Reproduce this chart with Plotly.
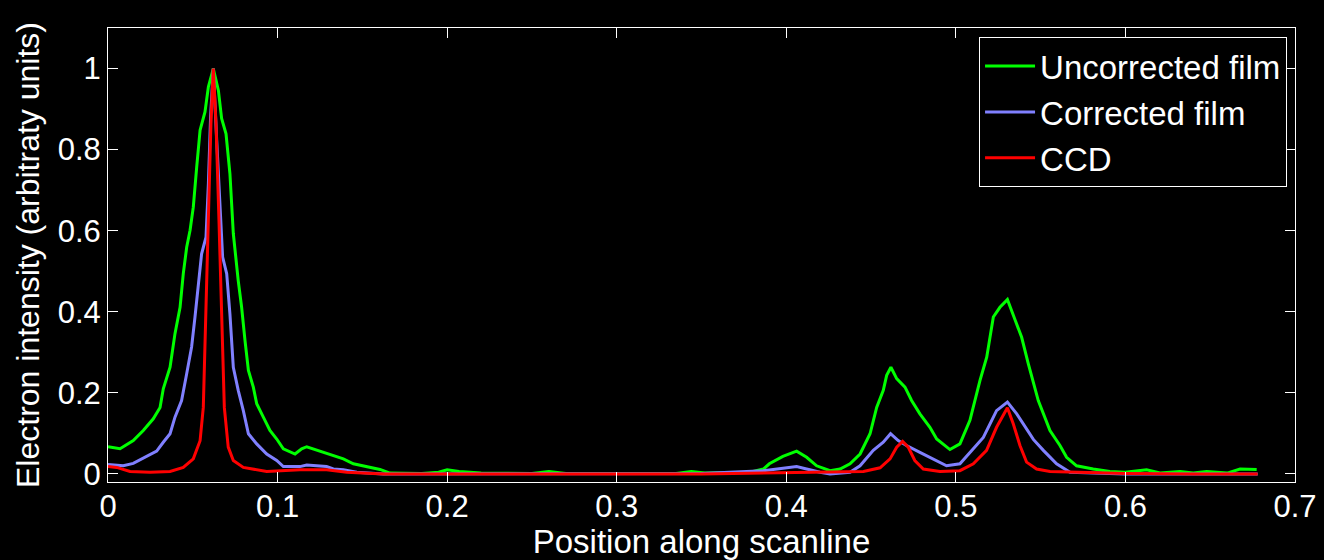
import plotly.graph_objects as go

# ---- data ----
x_uncorr = [0.0, 0.0071, 0.0149, 0.0208, 0.0267, 0.0307, 0.0326, 0.0366, 0.0395, 0.0425, 0.0444,
            0.0464, 0.0484, 0.0503, 0.0523, 0.0543, 0.0572, 0.0592, 0.0621, 0.0651, 0.0670, 0.0696,
            0.0719, 0.0739, 0.0768, 0.0788, 0.0808, 0.0828, 0.0857, 0.0877, 0.0916, 0.0955, 0.0995,
            0.1034, 0.1103, 0.1142, 0.1172, 0.1231, 0.1309, 0.1388, 0.1447, 0.1526, 0.1604, 0.1663,
            0.185, 0.195, 0.200, 0.207, 0.220, 0.250, 0.260, 0.270, 0.300, 0.335, 0.344, 0.352,
            0.3786, 0.3865, 0.390, 0.398, 0.4061, 0.412, 0.4179, 0.4258, 0.4317, 0.4376, 0.4435,
            0.4494, 0.4533, 0.4572, 0.4592, 0.4617, 0.4651, 0.4700, 0.4739, 0.4788, 0.4847, 0.4887,
            0.4965, 0.5024, 0.5083, 0.5142, 0.5182, 0.5221, 0.5260, 0.5304, 0.5350, 0.5388, 0.5427,
            0.5486, 0.5555, 0.5614, 0.5653, 0.5712, 0.5810, 0.5908, 0.5998, 0.6125, 0.6204, 0.6322,
            0.6400, 0.6479, 0.6600, 0.6676, 0.6774]
y_uncorr = [0.067, 0.062, 0.082, 0.107, 0.136, 0.164, 0.210, 0.263, 0.346, 0.411, 0.494,
            0.559, 0.601, 0.658, 0.757, 0.848, 0.893, 0.955, 1.000, 0.946, 0.877, 0.839,
            0.741, 0.593, 0.477, 0.411, 0.329, 0.255, 0.214, 0.173, 0.140, 0.107, 0.086,
            0.062, 0.049, 0.062, 0.067, 0.059, 0.047, 0.037, 0.025, 0.018, 0.011, 0.002,
            0.001, 0.004, 0.010, 0.006, 0.002, 0.001, 0.006, 0.001, 0.001, 0.001, 0.006, 0.002,
            0.004, 0.012, 0.025, 0.043, 0.056, 0.041, 0.020, 0.008, 0.012, 0.025, 0.049,
            0.099, 0.164, 0.206, 0.243, 0.263, 0.235, 0.214, 0.181, 0.148, 0.115, 0.086,
            0.060, 0.074, 0.132, 0.230, 0.288, 0.387, 0.411, 0.430, 0.379, 0.337, 0.272,
            0.181, 0.107, 0.070, 0.041, 0.020, 0.012, 0.006, 0.004, 0.010, 0.002, 0.006,
            0.002, 0.006, 0.002, 0.012, 0.011]

x_corr = [0.0, 0.0090, 0.0149, 0.0208, 0.0248, 0.0287, 0.0326, 0.0366, 0.0395, 0.0434, 0.0464,
          0.0493, 0.0513, 0.0533, 0.0552, 0.0578, 0.0592, 0.0605, 0.0621, 0.0641, 0.0660, 0.0676,
          0.0700, 0.0719, 0.0739, 0.0768, 0.0798, 0.0828, 0.0877, 0.0936, 0.0995, 0.1034, 0.1132,
          0.1172, 0.1289, 0.1329, 0.1388, 0.1467, 0.1624, 0.250, 0.350, 0.3865, 0.4002, 0.4061,
          0.4120, 0.4199, 0.4258, 0.4376, 0.4435, 0.4513, 0.4572, 0.4615, 0.4660, 0.4709, 0.4788,
          0.4867, 0.4945, 0.5024, 0.5083, 0.5162, 0.5240, 0.5304, 0.5359, 0.5457, 0.5516, 0.5594,
          0.5673, 0.600, 0.640, 0.678]
y_corr = [0.023, 0.020, 0.026, 0.039, 0.049, 0.056, 0.078, 0.099, 0.140, 0.181, 0.247,
          0.313, 0.387, 0.477, 0.543, 0.584, 0.716, 0.881, 1.000, 0.823, 0.658, 0.535,
          0.494, 0.395, 0.263, 0.206, 0.156, 0.099, 0.074, 0.049, 0.033, 0.018, 0.018,
          0.022, 0.018, 0.012, 0.010, 0.004, 0.000, 0.000, 0.001, 0.008, 0.016, 0.018,
          0.012, 0.004, 0.000, 0.004, 0.020, 0.058, 0.078, 0.099, 0.082, 0.070, 0.053,
          0.037, 0.020, 0.025, 0.053, 0.090, 0.156, 0.177, 0.148, 0.085, 0.058, 0.025,
          0.004, 0.000, 0.000, 0.000]

x_ccd = [0.0, 0.0051, 0.0130, 0.0248, 0.0366, 0.0444, 0.0503, 0.0543, 0.0562, 0.0578, 0.0592,
         0.0607, 0.0621, 0.0637, 0.0655, 0.0670, 0.0686, 0.0709, 0.0739, 0.0798, 0.0936, 0.1132,
         0.1289, 0.1408, 0.1624, 0.250, 0.350, 0.4455, 0.4553, 0.4612, 0.4651, 0.4686, 0.4719,
         0.4758, 0.4808, 0.4906, 0.5024, 0.5103, 0.5181, 0.5240, 0.5304, 0.5339, 0.5378, 0.5417,
         0.5476, 0.5555, 0.600, 0.640, 0.678]
y_ccd = [0.018, 0.016, 0.006, 0.004, 0.006, 0.016, 0.037, 0.082, 0.164, 0.411, 0.658,
         0.864, 1.000, 0.864, 0.617, 0.370, 0.164, 0.066, 0.033, 0.016, 0.006, 0.010,
         0.010, 0.004, 0.000, 0.000, 0.000, 0.006, 0.015, 0.037, 0.066, 0.080, 0.066,
         0.033, 0.012, 0.006, 0.008, 0.025, 0.058, 0.115, 0.163, 0.123, 0.070, 0.029,
         0.012, 0.006, 0.001, 0.000, 0.000]

x_tickvals = [0, 0.1, 0.2, 0.3, 0.4, 0.5, 0.6, 0.7]
x_ticktext = ["0", "0.1", "0.2", "0.3", "0.4", "0.5", "0.6", "0.7"]
y_tickvals = [0, 0.2, 0.4, 0.6, 0.8, 1.0]
y_ticktext = ["0", "0.2", "0.4", "0.6", "0.8", "1"]

series = [
    ("Uncorrected film", x_uncorr, y_uncorr, "#00ff00"),
    ("Corrected film", x_corr, y_corr, "#8080ff"),
    ("CCD", x_ccd, y_ccd, "#ff0000"),
]

FONT = "Liberation Sans, Arial, Helvetica, sans-serif"

fig = go.Figure()
for name, xs, ys, col in series:
    fig.add_trace(go.Scatter(x=xs, y=ys, mode="lines", name=name,
                             line=dict(color=col, width=3)))

axis_common = dict(showgrid=False, zeroline=False, showline=True, linecolor="#ffffff",
                   linewidth=1, mirror="ticks", ticks="inside", ticklen=10, tickwidth=1,
                   tickcolor="#ffffff", tickfont=dict(size=31, color="#ffffff", family=FONT))

fig.update_layout(
    width=1324, height=560,
    paper_bgcolor="#000000", plot_bgcolor="#000000",
    margin=dict(l=108, r=29, t=28, b=78, autoexpand=False),
    font=dict(family=FONT, color="#ffffff", size=31),
    xaxis=dict(range=[0, 0.7], tickvals=x_tickvals, ticktext=x_ticktext,
               ticklabelstandoff=-3,
               title=dict(text="Position along scanline", font=dict(size=33, color="#ffffff", family=FONT),
                          standoff=4),
               **axis_common),
    yaxis=dict(range=[-0.02, 1.1], tickvals=y_tickvals, ticktext=y_ticktext,
               title=dict(text="Electron intensity (arbitraty units)",
                          font=dict(size=32, color="#ffffff", family=FONT), standoff=8),
               **axis_common),
    legend=dict(x=0.9933, y=0.980, xanchor="right", yanchor="top",
                bgcolor="#000000", bordercolor="#ffffff", borderwidth=1,
                itemwidth=50,
                font=dict(size=33, color="#ffffff", family=FONT)),
    showlegend=True,
)

fig.write_html("out.html", config={"displayModeBar": False},
               post_script="document.body.style.margin='0';document.body.style.background='#000';")
